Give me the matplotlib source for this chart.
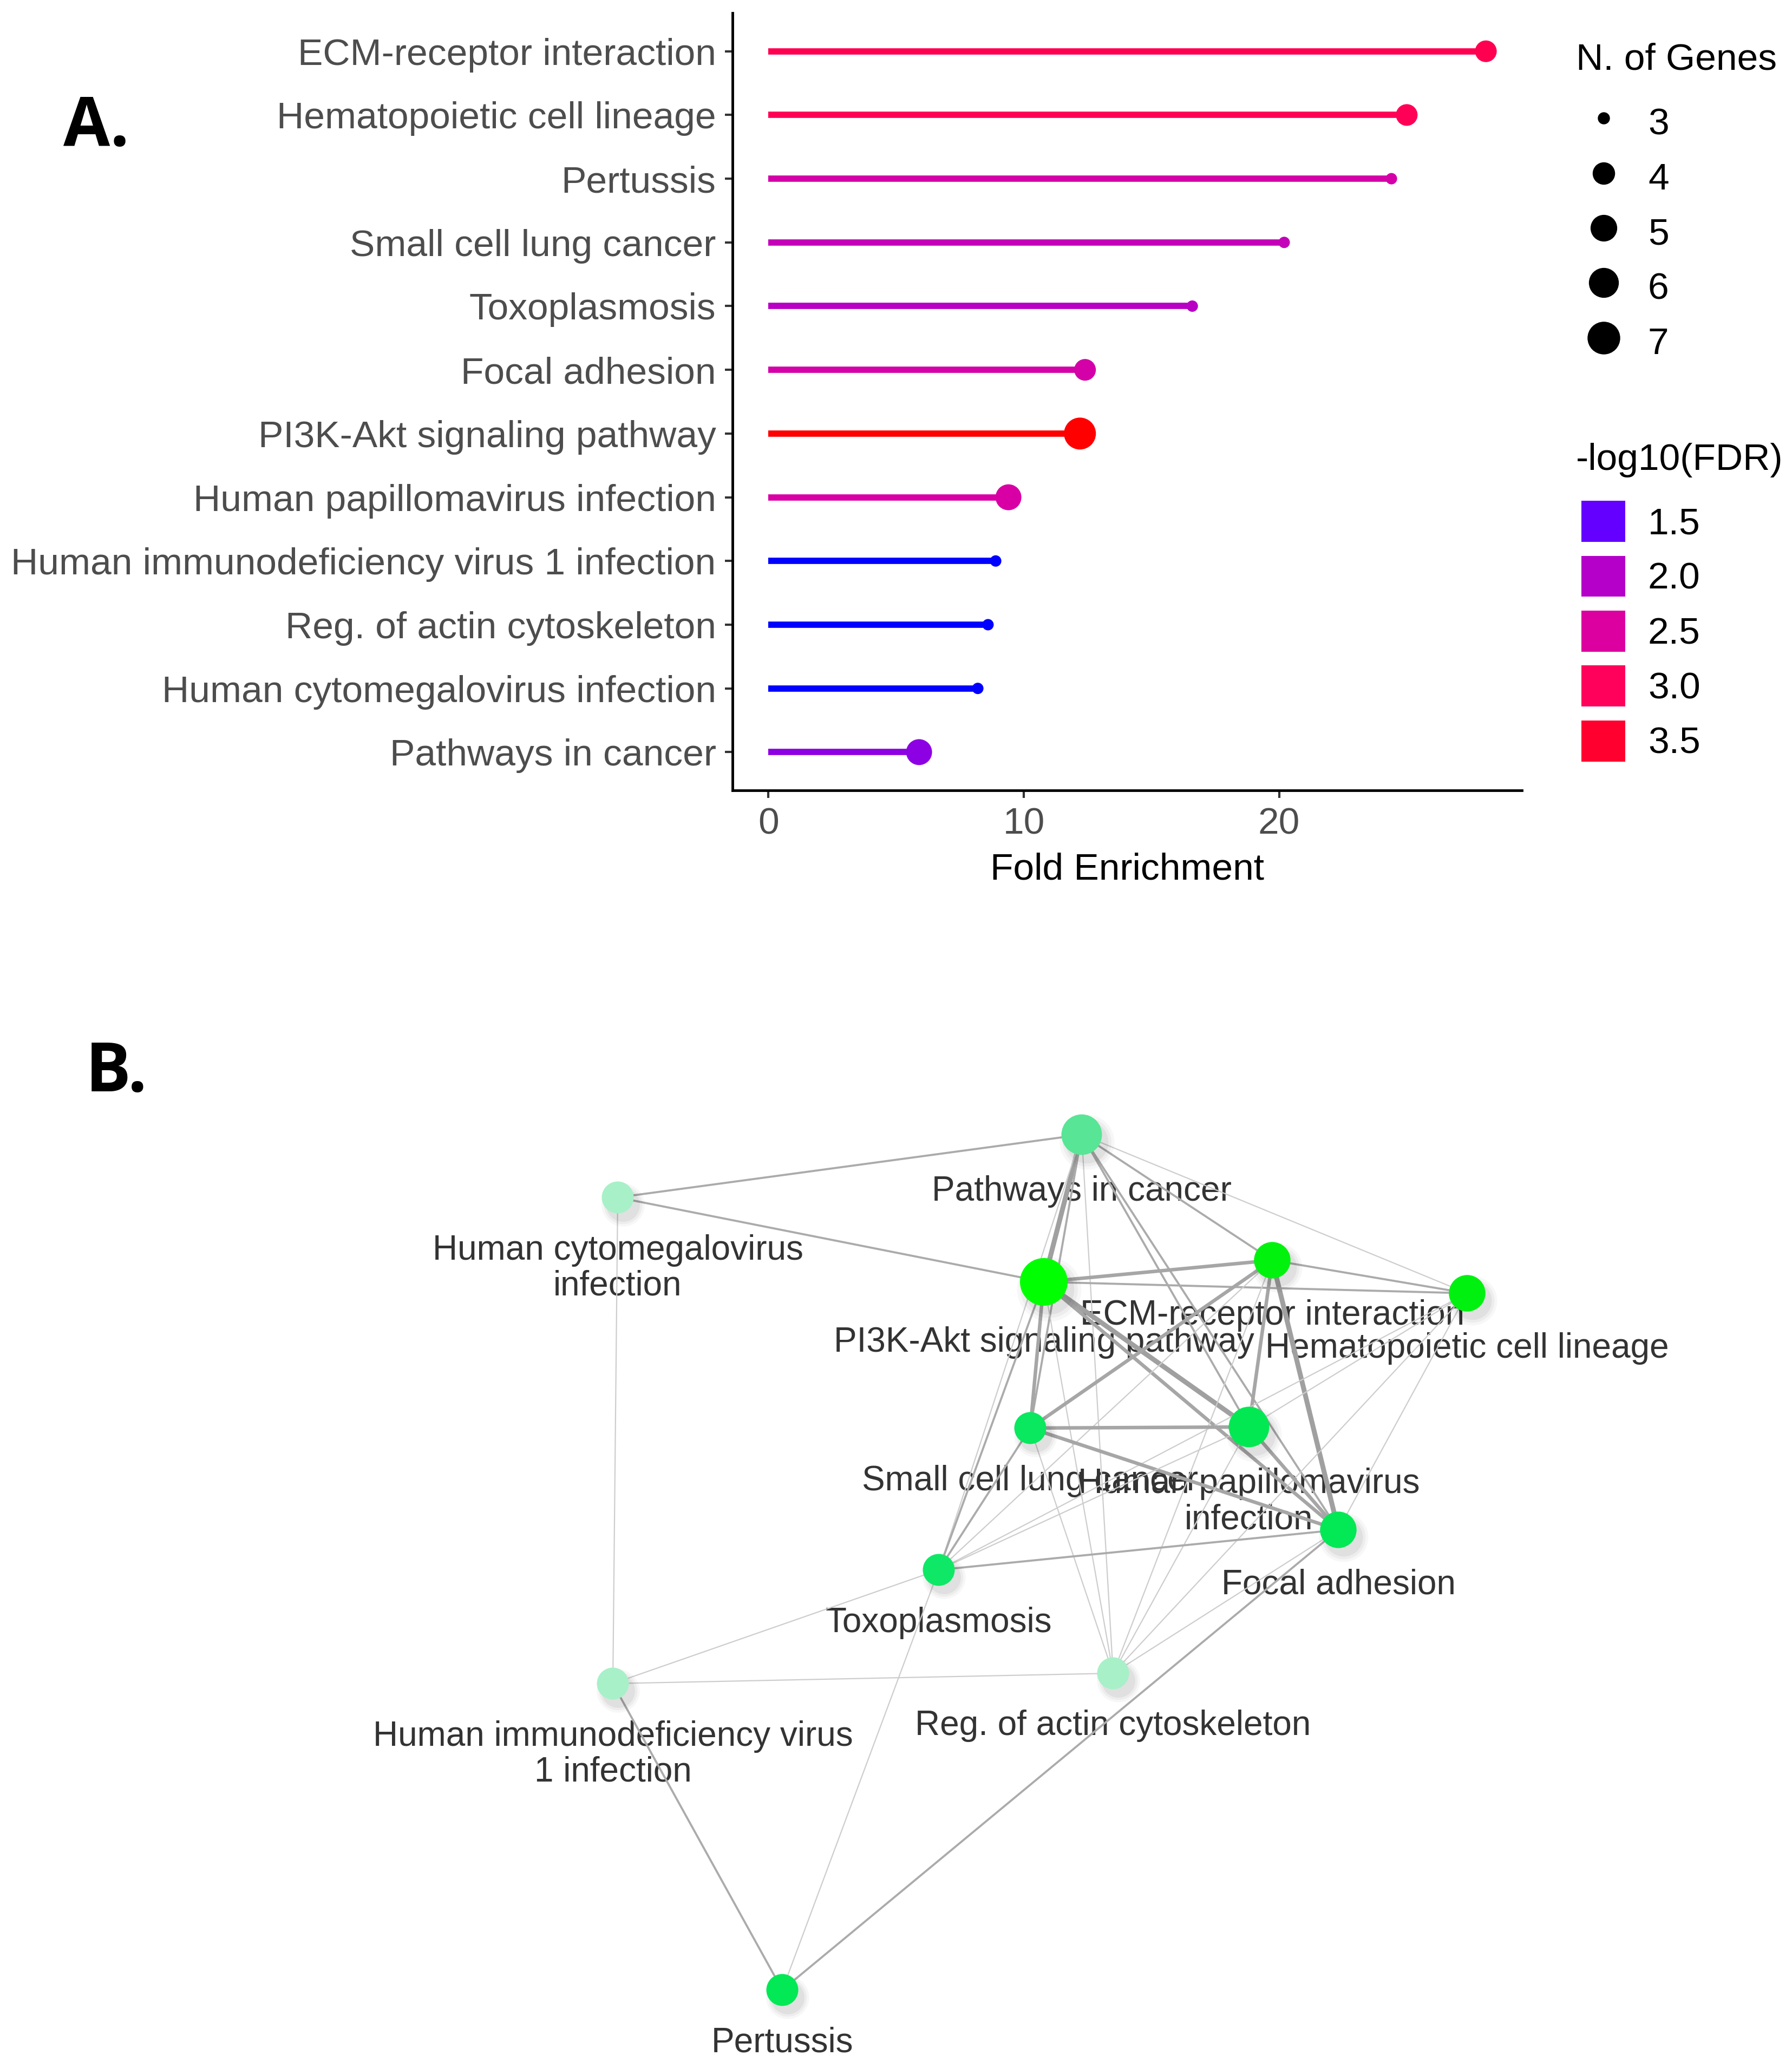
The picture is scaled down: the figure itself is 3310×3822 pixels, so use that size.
import matplotlib
matplotlib.use("Agg")
import matplotlib.pyplot as plt
import numpy as np
from matplotlib.colors import LinearSegmentedColormap, Normalize
from matplotlib.lines import Line2D
from matplotlib.patches import Patch

plt.rcParams['font.family'] = ['Liberation Sans', 'DejaVu Sans']

# ---- data: panel A (lollipop) ----
pathways = ["ECM-receptor interaction", "Hematopoietic cell lineage", "Pertussis",
            "Small cell lung cancer", "Toxoplasmosis", "Focal adhesion",
            "PI3K-Akt signaling pathway", "Human papillomavirus infection",
            "Human immunodeficiency virus 1 infection", "Reg. of actin cytoskeleton",
            "Human cytomegalovirus infection", "Pathways in cancer"]
fold_enrichment = [28.1, 25.0, 24.4, 20.2, 16.6, 12.4, 12.2, 9.4, 8.9, 8.6, 8.2, 5.9]
n_genes = [4, 4, 3, 3, 3, 4, 7, 5, 3, 3, 3, 5]
neg_log10_fdr = [3.1, 3.05, 2.4, 2.2, 2.05, 2.4, 3.65, 2.45, 1.3, 1.3, 1.3, 1.75]

size_breaks = [3, 4, 5, 6, 7]
fdr_breaks = [1.5, 2.0, 2.5, 3.0, 3.5]

# ---- data: panel B (network) ----
net_labels = ["ECM-receptor interaction", "Hematopoietic cell lineage", "Pertussis",
              "Small cell lung cancer", "Toxoplasmosis", "Focal adhesion",
              "PI3K-Akt signaling pathway", "Human papillomavirus\ninfection",
              "Human immunodeficiency virus\n1 infection", "Reg. of actin cytoskeleton",
              "Human cytomegalovirus\ninfection", "Pathways in cancer"]
# layout positions of the nodes (layout units)
net_x = [2350, 2710, 1445, 1903, 1734, 2472, 1928, 2307, 1132, 2056, 1141, 1998]
net_y = [2328, 2389, 3676, 2638, 2900, 2826, 2368, 2636, 3110, 3091, 2212, 2096]
# (node a, node b, weight)
net_edges = [(11, 10, 2), (11, 6, 4), (11, 0, 2), (11, 1, 1), (11, 3, 2), (11, 7, 2),
             (11, 5, 2), (11, 4, 1), (11, 9, 1),
             (10, 6, 2), (10, 8, 1),
             (6, 0, 3), (6, 1, 2), (6, 7, 4), (6, 5, 3), (6, 3, 3), (6, 4, 2), (6, 9, 1),
             (0, 1, 2), (0, 3, 3), (0, 7, 3), (0, 5, 4), (0, 4, 1), (0, 9, 1),
             (1, 7, 1), (1, 5, 1), (1, 4, 1), (1, 9, 1),
             (3, 7, 3), (3, 5, 3), (3, 4, 2), (3, 9, 1),
             (7, 5, 3), (7, 4, 1), (7, 9, 1),
             (5, 4, 2), (5, 9, 1), (5, 2, 2),
             (4, 8, 1), (4, 2, 1),
             (8, 9, 1), (8, 2, 2)]

# ---- scales ----
fdr_cmap = LinearSegmentedColormap.from_list(
    "fdr", [(0.0, "#0000FF"), (0.2 / 2.35, "#6600FF"), (0.7 / 2.35, "#B400C8"),
            (1.2 / 2.35, "#DC00A0"), (1.7 / 2.35, "#FF005A"), (2.2 / 2.35, "#FF0030"),
            (1.0, "#FF0000")])
fdr_norm = Normalize(1.3, 3.65)
node_cmap = LinearSegmentedColormap.from_list(
    "node", [(0.0, "#A8F0C8"), (0.45 / 2.35, "#58E595"), (0.7 / 2.35, "#10E868"),
             (1.2 / 2.35, "#00E850"), (1.7 / 2.35, "#00F010"), (1.0, "#00FF00")])


def dot_px(n):
    # ggplot-style area scale, diameter in pixels
    t = (n - min(size_breaks)) / (max(size_breaks) - min(size_breaks))
    return 21 + np.sqrt(t) * (59 - 21)


def node_px(n):
    return np.sqrt(3481 + (n - 3) * 1066)


fig = plt.figure(figsize=(33.1, 38.22), dpi=100)

# ---- panel B ----
axb = fig.add_axes([0, 0, 1, 1])
axb.set_xlim(0, 3310)
axb.set_ylim(3822, 0)
axb.axis('off')
axb.patch.set_alpha(0)

edge_w = {1: 2.2, 2: 3.8, 3: 6.5, 4: 9.0}
edge_c = {1: "#cdcdcd", 2: "#ababab", 3: "#a6a6a6", 4: "#a0a0a0"}
for a, b, w in net_edges:
    axb.plot([net_x[a], net_x[b]], [net_y[a], net_y[b]], color=edge_c[w],
             lw=edge_w[w] * 0.72, solid_capstyle='round', zorder=2)

nd = np.array([node_px(n) for n in n_genes])
for k, alpha in [(1.35, 0.03), (1.2, 0.04), (1.05, 0.05)]:
    axb.scatter(np.array(net_x) + 10, np.array(net_y) + 14, s=(nd * k * 0.72) ** 2,
                color='black', alpha=alpha, linewidths=0, zorder=3)
axb.scatter(net_x, net_y, s=(nd * 0.72) ** 2, c=neg_log10_fdr, cmap=node_cmap,
            vmin=1.3, vmax=3.65, linewidths=0, zorder=4)
for lab, x, y, d in zip(net_labels, net_x, net_y, nd):
    axb.text(x, y + d / 2 + 38, lab, ha='center', va='top', fontsize=46,
             color='#333333', linespacing=1.12, zorder=1)

# ---- panel A ----
ax = fig.add_axes([0.4088, 0.618, 0.4404, 0.3757])
ypos = np.arange(len(pathways))[::-1] + 1
cols = [fdr_cmap(fdr_norm(v)) for v in neg_log10_fdr]
ax.hlines(ypos, 0, fold_enrichment, colors=cols, lw=8.4, zorder=2)
ax.scatter(fold_enrichment, ypos, s=[(dot_px(n) * 0.72) ** 2 for n in n_genes],
           c=cols, linewidths=0, zorder=3)
xmax = max(fold_enrichment)
ax.set_xlim(-0.05 * xmax, 1.05 * xmax)
ax.set_ylim(0.4, len(pathways) + 0.6)
ax.set_xticks([0, 10, 20])
ax.set_yticks(ypos)
ax.set_yticklabels(pathways)
ax.tick_params(axis='both', labelsize=50, color='#333333', labelcolor='#4D4D4D',
               length=10, width=3, pad=12)
for side in ['top', 'right']:
    ax.spines[side].set_visible(False)
for side in ['left', 'bottom']:
    ax.spines[side].set_linewidth(3.5)
    ax.spines[side].set_color('black')
ax.set_xlabel('Fold Enrichment', fontsize=50, color='black', labelpad=14)

# legends (titles placed as separate texts)
leg_kw = dict(loc='upper left', frameon=False, fontsize=50, handlelength=1.17,
              handleheight=1.3, handletextpad=0.6, labelspacing=0.37, borderpad=0,
              borderaxespad=0)
size_handles = [Line2D([], [], ls='none', marker='o', color='black',
                       markersize=dot_px(n) * 0.72) for n in size_breaks]
leg1 = fig.legend(size_handles, [str(n) for n in size_breaks],
                  bbox_to_anchor=(0.8825, 0.9509), **leg_kw)
color_handles = [Patch(facecolor=fdr_cmap(fdr_norm(v)), edgecolor='none') for v in fdr_breaks]
leg2 = fig.legend(color_handles, [f"{v:.1f}" for v in fdr_breaks],
                  bbox_to_anchor=(0.8825, 0.7579), **leg_kw)
fig.text(0.8795, 0.9712, 'N. of Genes', fontsize=50, ha='left', va='center')
fig.text(0.8795, 0.7776, '-log10(FDR)', fontsize=50, ha='left', va='center')

fig.text(0.0353, 0.9296, 'A.', fontsize=90, fontweight='bold', family='Open Sans',
         ha='left', va='baseline')
fig.text(0.0476, 0.4725, 'B.', fontsize=90, fontweight='bold', family='Open Sans',
         ha='left', va='baseline')

fig.savefig('out.png', dpi=100, facecolor='white')
